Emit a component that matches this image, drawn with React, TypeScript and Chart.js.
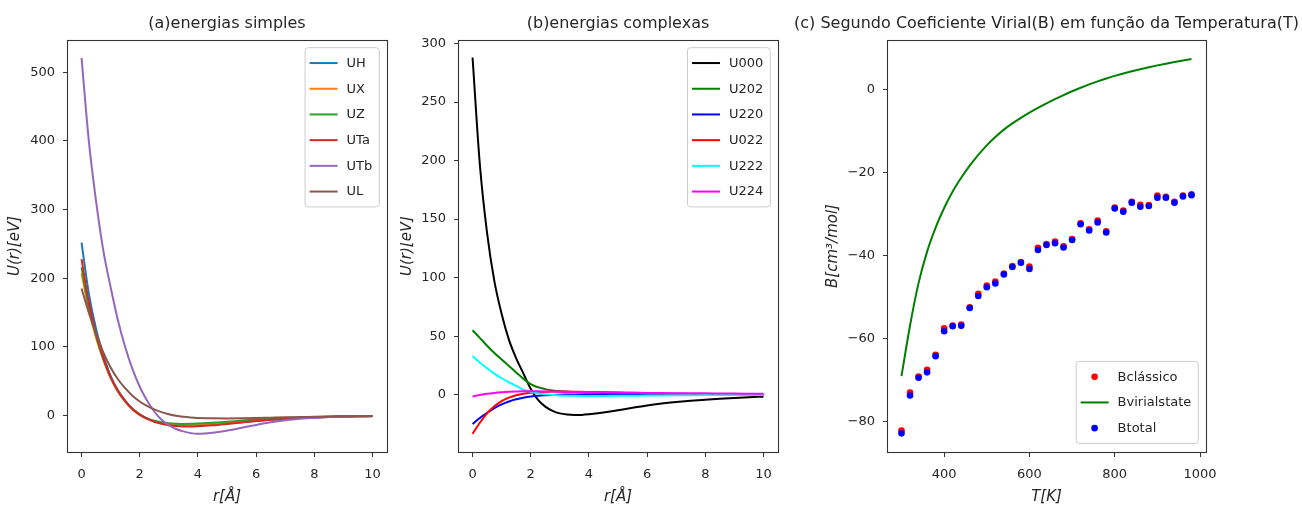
import React, { useEffect, useRef } from "react";
import { Chart, registerables } from "chart.js";

Chart.register(...registerables);

const FONT = "'DejaVu Sans', 'Noto Sans', sans-serif";
const TXT = "#262626";

// ---------- Panel (a) energias simples ----------
const rGrid = [0, 0.25, 0.5, 0.75, 1, 1.25, 1.5, 1.75, 2, 2.25, 2.5, 2.75, 3, 3.25, 3.5, 3.75, 4, 4.5, 5, 5.5, 6, 6.5, 7, 7.5, 8, 8.5, 9, 9.5, 10];
const UH = [252, 178, 126, 88, 58, 37, 22, 10, 2, -4, -8, -11, -12.8, -13.8, -14.3, -14.4, -14.2, -13.1, -11.4, -9.6, -7.8, -6.2, -4.8, -3.7, -2.8, -2.1, -1.5, -1.1, -0.8];
const UX = [207, 154, 113, 81, 55, 35, 20.5, 9, 1, -4.8, -8.6, -11, -12.5, -13.3, -13.6, -13.6, -13.3, -12.2, -10.6, -8.9, -7.2, -5.7, -4.4, -3.4, -2.6, -1.9, -1.4, -1.0, -0.7];
const UZ = [216, 158, 116, 82, 55.5, 35.5, 21, 9.5, 1.5, -4, -7.5, -9.8, -11.2, -11.9, -12.1, -12, -11.6, -10.4, -8.9, -7.3, -5.8, -4.5, -3.4, -2.6, -1.9, -1.4, -1.0, -0.7, -0.5];
const UTa = [228, 165, 119, 84, 56, 36, 21, 9.5, 1.5, -4.5, -9, -12, -14, -15.2, -15.8, -16, -15.6, -14.2, -12.2, -10, -7.8, -6, -4.6, -3.5, -2.6, -1.9, -1.4, -1.0, -0.7];
const UTb = [521, 400, 312, 240, 187, 139, 100, 68, 42, 22, 6, -6, -14, -19.5, -23, -25.5, -26.5, -25, -21.8, -17.8, -13.6, -9.8, -6.8, -4.6, -3.1, -2.1, -1.4, -1.0, -0.7];
const UL = [185, 150, 120, 92, 70, 53, 40, 29, 20.5, 14, 9, 5, 2, -0.3, -1.8, -2.8, -3.4, -4, -4.1, -3.9, -3.5, -3, -2.5, -2.1, -1.7, -1.3, -1, -0.8, -0.6];
const labelsA = ["UH", "UX", "UZ", "UTa", "UTb", "UL"];
const seriesA = [UH, UX, UZ, UTa, UTb, UL];
const colorsA = ["#1f77b4", "#ff7f0e", "#2ca02c", "#d62728", "#9467bd", "#8c564b"];
const xTicksA = [0, 2, 4, 6, 8, 10];
const yTicksA = [0, 100, 200, 300, 400, 500];

// ---------- Panel (b) energias complexas ----------
const U000 = [288, 197, 138, 97, 69, 47, 31, 18, 5, -4.5, -10.2, -13.8, -16, -17, -17.4, -17.3, -16.8, -15.3, -13.4, -11.2, -9.2, -7.6, -6.3, -5.2, -4.3, -3.5, -2.8, -2.2, -1.7];
const U202 = [55, 48.5, 41.8, 35.6, 30, 24.5, 19, 13.5, 9, 6.3, 4.7, 3.6, 2.9, 2.5, 2.2, 2.0, 1.8, 1.5, 1.2, 1.0, 0.8, 0.65, 0.5, 0.42, 0.35, 0.3, 0.25, 0.22, 0.2];
const U220 = [-25, -20, -15.5, -11.5, -8.3, -5.8, -4, -2.6, -1.6, -0.9, -0.5, -0.2, 0, 0.1, 0.2, 0.2, 0.2, 0.2, 0.15, 0.1, 0.1, 0.1, 0.05, 0.05, 0, 0, 0, 0, 0];
const U022 = [-33.5, -24, -16, -10, -5.5, -2.5, -0.5, 0.8, 1.6, 2.1, 2.4, 2.6, 2.6, 2.6, 2.5, 2.4, 2.3, 2.1, 1.9, 1.6, 1.3, 1.0, 0.8, 0.6, 0.5, 0.4, 0.3, 0.25, 0.2];
const U222 = [33, 27.5, 22.5, 18, 14, 10.5, 7.5, 4.3, 2.5, 1.2, 0.3, -0.3, -0.7, -0.9, -1, -1.1, -1.1, -1.1, -1, -0.9, -0.8, -0.7, -0.6, -0.5, -0.4, -0.35, -0.3, -0.25, -0.2];
const U224 = [-1.5, -0.3, 0.7, 1.5, 2.1, 2.5, 2.7, 2.8, 2.8, 2.8, 2.7, 2.6, 2.5, 2.4, 2.3, 2.2, 2.1, 1.95, 1.8, 1.65, 1.5, 1.4, 1.3, 1.2, 1.1, 1.0, 0.9, 0.85, 0.8];
const labelsB = ["U000", "U202", "U220", "U022", "U222", "U224"];
const seriesB = [U000, U202, U220, U022, U222, U224];
const colorsB = ["#000000", "#008000", "#0000ff", "#ff0000", "#00ffff", "#ff00ff"];
const xTicksB = [0, 2, 4, 6, 8, 10];
const yTicksB = [0, 50, 100, 150, 200, 250, 300];

// ---------- Panel (c) Segundo Coeficiente Virial ----------
const temps = [300, 320, 340, 360, 380, 400, 420, 440, 460, 480, 500, 520, 540, 560, 580, 600, 620, 640, 660, 680, 700, 720, 740, 760, 780, 800, 820, 840, 860, 880, 900, 920, 940, 960, 980];
const Bclassico = [-82.1, -73.0, -69.1, -67.5, -63.9, -57.5, -56.8, -56.6, -52.4, -49.2, -47.2, -46.2, -44.3, -42.5, -41.5, -42.6, -38.1, -37.2, -36.6, -37.7, -36.0, -32.2, -33.6, -31.5, -34.1, -28.4, -29.1, -27.0, -27.7, -27.8, -25.5, -25.8, -27.0, -25.5, -25.2];
const Bvirialstate = [-69, -56.8, -46.6, -39.0, -33.2, -28.5, -24.5, -21.2, -18.3, -15.7, -13.4, -11.4, -9.6, -8.1, -6.75, -5.5, -4.35, -3.27, -2.25, -1.28, -0.36, 0.5, 1.3, 2.04, 2.72, 3.35, 3.93, 4.47, 4.97, 5.44, 5.88, 6.29, 6.68, 7.05, 7.4];
const Btotal = [-82.8, -73.7, -69.4, -68.1, -64.2, -58.2, -57.0, -56.9, -52.6, -49.7, -47.6, -46.7, -44.5, -42.7, -41.7, -43.2, -38.6, -37.4, -37.0, -38.0, -36.2, -32.4, -33.9, -32.0, -34.4, -28.6, -29.4, -27.2, -28.2, -28.0, -26.0, -26.0, -27.2, -25.7, -25.4];
const labelsC = ["Bclássico", "Bvirialstate", "Btotal"];
const xTicksC = [400, 600, 800, 1000];
const yTicksC = [-80, -60, -40, -20, 0];

const toXY = (xs: number[], ys: number[]) => xs.map((x, i) => ({ x, y: ys[i] }));
const fmt = (v: number) => (v < 0 ? "\u2212" + Math.abs(v) : String(v));

// Frame (all four spines)
const framePlugin = {
  id: "mplFrame",
  afterDatasetsDraw(chart: any) {
    const { ctx, chartArea: a } = chart;
    ctx.save();
    ctx.strokeStyle = "#333333";
    ctx.lineWidth = 1.1;
    ctx.strokeRect(Math.round(a.left) + 0.5, Math.round(a.top) + 0.5, Math.round(a.right - a.left), Math.round(a.bottom - a.top));
    ctx.restore();
  },
};

// Matplotlib-like legend inside the axes
const legendPlugin = {
  id: "mplLegend",
  afterDraw(chart: any, _args: any, opts: any) {
    if (!opts || !opts.corner) return;
    const { ctx, chartArea: a } = chart;
    const ds = chart.data.datasets;
    ctx.save();
    ctx.font = `13px ${FONT}`;
    const maxW = Math.max(...ds.map((d: any) => ctx.measureText(d.label).width));
    const rowH = 25.7;
    const padY = 2.5;
    const textOff = 41.5;
    const w = textOff + maxW + 7;
    const h = ds.length * rowH + 2 * padY;
    const x = a.right - 7.7 - w;
    const y = opts.corner === "upper right" ? a.top + 7.7 : a.bottom - 8.5 - h;
    const r = 3;
    ctx.beginPath();
    ctx.moveTo(x + r, y);
    ctx.lineTo(x + w - r, y);
    ctx.quadraticCurveTo(x + w, y, x + w, y + r);
    ctx.lineTo(x + w, y + h - r);
    ctx.quadraticCurveTo(x + w, y + h, x + w - r, y + h);
    ctx.lineTo(x + r, y + h);
    ctx.quadraticCurveTo(x, y + h, x, y + h - r);
    ctx.lineTo(x, y + r);
    ctx.quadraticCurveTo(x, y, x + r, y);
    ctx.closePath();
    ctx.fillStyle = "rgba(255,255,255,0.8)";
    ctx.fill();
    ctx.strokeStyle = "#cccccc";
    ctx.lineWidth = 1;
    ctx.stroke();
    ds.forEach((d: any, i: number) => {
      const cy = y + padY + rowH * (i + 0.5);
      if (d.showLine) {
        ctx.beginPath();
        ctx.moveTo(x + 4.5, cy);
        ctx.lineTo(x + 32.5, cy);
        ctx.strokeStyle = d.borderColor;
        ctx.lineWidth = 2;
        ctx.stroke();
      } else {
        ctx.beginPath();
        ctx.arc(x + 18.5, cy, 3.3, 0, Math.PI * 2);
        ctx.fillStyle = d.backgroundColor;
        ctx.fill();
      }
      ctx.fillStyle = TXT;
      ctx.textAlign = "left";
      ctx.textBaseline = "middle";
      ctx.fillText(d.label, x + textOff, cy + 0.5);
    });
    ctx.restore();
  },
};

type PanelSpec = {
  datasets: any[];
  xMin: number; xMax: number; yMin: number; yMax: number;
  xTicks: number[]; yTicks: number[];
  title: string; titleFull: boolean;
  xTitle: string; yTitle: string;
  yWidth: number; yTitlePad: number; padRight: number; rightAxisWidth: number;
  corner: string;
};

function buildConfig(p: PanelSpec): any {
  const tickFont = { family: FONT, size: 13 };
  const axisTitleFont = { family: FONT, size: 15, style: "italic" as const, lineHeight: 1.2 };
  const scales: any = {
    x: {
      type: "linear",
      position: "bottom",
      min: p.xMin,
      max: p.xMax,
      afterBuildTicks: (ax: any) => { ax.ticks = p.xTicks.map((v) => ({ value: v })); },
      afterFit: (ax: any) => { ax.height = 55; },
      grid: { display: true, drawOnChartArea: false, drawTicks: true, tickLength: 5, color: "#333333", lineWidth: 1 },
      border: { display: false },
      ticks: { font: tickFont, color: TXT, padding: 10, maxRotation: 0, autoSkip: false, callback: (v: any) => fmt(Number(v)) },
      title: { display: true, text: p.xTitle, color: TXT, font: axisTitleFont, padding: { top: 0, bottom: 1 } },
    },
    y: {
      type: "linear",
      position: "left",
      min: p.yMin,
      max: p.yMax,
      afterBuildTicks: (ax: any) => { ax.ticks = p.yTicks.map((v) => ({ value: v })); },
      afterFit: (ax: any) => { ax.width = p.yWidth; },
      grid: { display: true, drawOnChartArea: false, drawTicks: true, tickLength: 4, color: "#333333", lineWidth: 1 },
      border: { display: false },
      ticks: { font: tickFont, color: TXT, padding: 8, autoSkip: false, callback: (v: any) => fmt(Number(v)) },
      title: { display: true, text: p.yTitle, color: TXT, font: axisTitleFont, padding: { top: p.yTitlePad, bottom: 0 } },
    },
  };
  if (p.rightAxisWidth > 0) {
    // empty spacer axis on the right so that the full-width title stays centred over the axes
    scales.spacer = {
      type: "linear",
      position: "right",
      display: true,
      grid: { display: false, drawTicks: false },
      border: { display: false },
      ticks: { display: false },
      afterFit: (ax: any) => { ax.width = p.rightAxisWidth; },
    };
  }
  return {
    type: "scatter",
    data: { datasets: p.datasets },
    options: {
      responsive: false,
      animation: false,
      devicePixelRatio: 1,
      layout: { padding: { left: 0, right: p.padRight, top: 0, bottom: 0 } },
      plugins: {
        legend: { display: false },
        tooltip: { enabled: false },
        title: {
          display: true,
          text: p.title,
          fullSize: p.titleFull,
          color: TXT,
          font: { family: FONT, size: 16, weight: "normal", lineHeight: 1.2 },
          padding: { top: 14.4, bottom: 6.4 },
        },
        mplLegend: { corner: p.corner },
      },
      scales,
    },
    plugins: [framePlugin, legendPlugin],
  };
}

const lineSet = (label: string, xs: number[], ys: number[], color: string, order: number) => ({
  label,
  data: toXY(xs, ys),
  showLine: true,
  borderColor: color,
  backgroundColor: color,
  borderWidth: 2,
  pointRadius: 0,
  cubicInterpolationMode: "monotone",
  order,
});

const dotSet = (label: string, xs: number[], ys: number[], color: string, order: number) => ({
  label,
  data: toXY(xs, ys),
  showLine: false,
  borderColor: color,
  backgroundColor: color,
  borderWidth: 0,
  pointRadius: 3.3,
  pointHoverRadius: 3.3,
  order,
});

const specA = (): PanelSpec => ({
  datasets: seriesA.map((s, i) => lineSet(labelsA[i], rGrid, s, colorsA[i], -i)),
  xMin: -0.5, xMax: 10.5, yMin: -53, yMax: 547,
  xTicks: xTicksA, yTicks: yTicksA,
  title: "(a)energias simples", titleFull: false,
  xTitle: "r[Å]", yTitle: "U(r)[eV]",
  yWidth: 67, yTitlePad: 6, padRight: 13, rightAxisWidth: 0,
  corner: "upper right",
});

const specB = (): PanelSpec => ({
  datasets: seriesB.map((s, i) => lineSet(labelsB[i], rGrid, s, colorsB[i], -i)),
  xMin: -0.5, xMax: 10.5, yMin: -49, yMax: 303,
  xTicks: xTicksB, yTicks: yTicksB,
  title: "(b)energias complexas", titleFull: false,
  xTitle: "r[Å]", yTitle: "U(r)[eV]",
  yWidth: 58, yTitlePad: -2, padRight: 12, rightAxisWidth: 0,
  corner: "upper right",
});

const specC = (): PanelSpec => ({
  datasets: [
    dotSet(labelsC[0], temps, Bclassico, "#ff0000", 0),
    lineSet(labelsC[1], temps, Bvirialstate, "#008000", -1),
    dotSet(labelsC[2], temps, Btotal, "#0000ff", -2),
  ],
  xMin: 266, xMax: 1014, yMin: -87.3, yMax: 12,
  xTicks: xTicksC, yTicks: yTicksC,
  title: "(c) Segundo Coeficiente Virial(B) em função da Temperatura(T)", titleFull: true,
  xTitle: "T[K]", yTitle: "B[cm³/mol]",
  yWidth: 96, yTitlePad: 33.3, padRight: 0, rightAxisWidth: 96,
  corner: "lower right",
});

function Panel({ left, width, spec }: { left: number; width: number; spec: () => PanelSpec }) {
  const ref = useRef<HTMLCanvasElement | null>(null);
  useEffect(() => {
    if (!ref.current) return;
    const chart = new Chart(ref.current, buildConfig(spec()));
    return () => chart.destroy();
  }, []);
  return (
    <canvas
      ref={ref}
      width={width}
      height={507}
      style={{ position: "absolute", left, top: 0, width, height: 507, display: "block" }}
    />
  );
}

export default function App() {
  return (
    <div style={{ position: "absolute", left: 0, top: 0, width: 1302, height: 507, background: "#ffffff", overflow: "hidden" }}>
      <Panel left={0} width={400} spec={specA} />
      <Panel left={400} width={390} spec={specB} />
      <Panel left={791} width={511} spec={specC} />
    </div>
  );
}
